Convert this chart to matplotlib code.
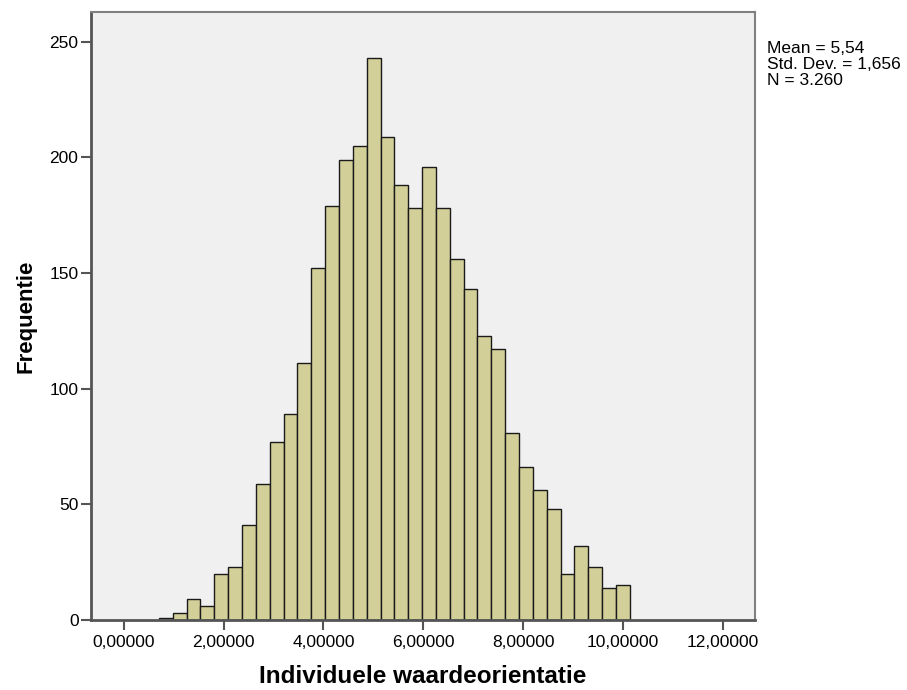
import matplotlib
matplotlib.use("Agg")
import matplotlib.pyplot as plt
import numpy as np

# histogram uit SPSS: aantallen per bin
bin_start = 0.70
bin_width = 0.2777
counts = [1, 3, 9, 6, 20, 23, 41, 59, 77, 89, 111, 152, 179, 199, 205, 243, 209,
          188, 178, 196, 178, 156, 143, 123, 117, 81, 66, 56, 48, 20, 32, 23, 14, 15]
xticks = [0, 2, 4, 6, 8, 10, 12]
xticklabels = ["0,00000", "2,00000", "4,00000", "6,00000", "8,00000", "10,00000", "12,00000"]
yticks = [0, 50, 100, 150, 200, 250]
stats_text = "Mean = 5,54\nStd. Dev. = 1,656\nN = 3.260"

plt.rcParams['font.family'] = ['Liberation Sans', 'DejaVu Sans']

fig = plt.figure(figsize=(9.07, 6.90), dpi=100)
ax = fig.add_axes([91/907, 1 - 620/690, (755-91)/907, (620-12)/690])
ax.set_facecolor("#f0f0f0")

lefts = bin_start + bin_width * np.arange(len(counts))
ax.bar(lefts, counts, width=bin_width, align="edge", color="#d3cf98",
       edgecolor="#1a1a1a", linewidth=1.0)

ax.set_xlim(-0.66, 12.65)
ax.set_ylim(0, 262.9)
ax.set_xticks(xticks)
ax.set_xticklabels(xticklabels, fontsize=12.5)
ax.set_yticks(yticks)
ax.set_yticklabels([str(v) for v in yticks], fontsize=12.5)
ax.tick_params(axis="both", length=7.5, width=1.5, color="#555555")
ax.tick_params(axis="x", pad=3)
ax.tick_params(axis="y", pad=1.5)

for side in ["left", "bottom"]:
    ax.spines[side].set_color("#555555")
    ax.spines[side].set_linewidth(2)
for side in ["top", "right"]:
    ax.spines[side].set_color("#808080")
    ax.spines[side].set_linewidth(1.5)

ax.set_xlabel("Individuele waardeorientatie", fontsize=17.5, fontweight="bold",
              family=["Liberation Sans Narrow", "Liberation Sans"], labelpad=11)
ax.set_ylabel("Frequentie", fontsize=16, fontweight="bold", labelpad=9)

fig.text(767/907, 1 - 41/690, stats_text, fontsize=12.5, va="top", ha="left",
         linespacing=1.1)

fig.savefig("out.png", dpi=100)
